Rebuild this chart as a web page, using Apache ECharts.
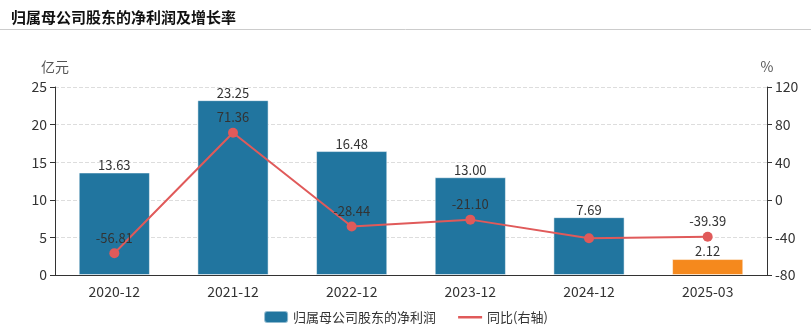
<!DOCTYPE html>
<html><head><meta charset="utf-8">
<script src="https://cdn.jsdelivr.net/npm/echarts@6/dist/echarts.min.js"></script>
<style>html,body{margin:0;padding:0;background:#fff}#c{width:811px;height:327px}</style>
</head><body><div id="c"></div>
<script>
const categories = ['2020-12','2021-12','2022-12','2023-12','2024-12','2025-03'];
const profit = [13.63, 23.25, 16.48, 13.00, 7.69, 2.12];
const growth = [-56.81, 71.36, -28.44, -21.10, -40.85, -39.39];
const leftTicks = [0, 25, 5];
const rightTicks = [-80, 120, 40];
const chart = echarts.init(document.getElementById('c'));
const font = '"Microsoft YaHei","Noto Sans CJK SC",sans-serif';
chart.setOption({
  animation:false,
  textStyle:{fontFamily:font},
  title:{text:'归属母公司股东的净利润及增长率',left:6,top:5,textStyle:{fontSize:15,fontWeight:'bold',color:'#111',fontFamily:font}},
  graphic:[{type:'line',shape:{x1:0,y1:29.5,x2:811,y2:29.5},style:{stroke:'#ccc',lineWidth:1}}],
  grid:{left:55,right:44,top:87,bottom:52},
  legend:{top:305,left:'center',itemWidth:24,itemHeight:12,itemGap:22,textStyle:{fontSize:13,color:'#333'},
    data:[{name:'归属母公司股东的净利润',icon:'roundRect'},
          {name:'同比(右轴)',icon:'path://M0,0L0,0M0,5L24,5L24,7.5L0,7.5ZM24,12L24,12'}]},
  xAxis:{type:'category',data:categories,axisLine:{lineStyle:{color:'#333'}},axisTick:{alignWithLabel:true,lineStyle:{color:'#333'}},
    axisLabel:{fontSize:14,color:'#333',margin:10}},
  yAxis:[{type:'value',name:'亿元',min:leftTicks[0],max:leftTicks[1],interval:leftTicks[2],
    nameTextStyle:{fontSize:14,color:'#555',padding:[0,0,0,0]},nameGap:13,
    axisLine:{show:true,lineStyle:{color:'#333'}},axisTick:{show:true},axisLabel:{fontSize:14,color:'#333'},
    splitLine:{lineStyle:{type:'dashed',color:'#ddd'}}},
    {type:'value',name:'%',min:rightTicks[0],max:rightTicks[1],interval:rightTicks[2],
    nameTextStyle:{fontSize:14,color:'#555',padding:[0,0,0,0]},nameGap:13,
    axisLine:{show:true,lineStyle:{color:'#333'}},axisTick:{show:true},axisLabel:{fontSize:14,color:'#333'},
    splitLine:{show:false}}],
  series:[
    {name:'归属母公司股东的净利润',type:'bar',barWidth:'60%',
     data:profit.map((v,i)=>({value:v,itemStyle:{color:i===profit.length-1?'#f5891d':'#21759f'}})),
     itemStyle:{color:'#21759f',borderColor:'rgba(255,255,255,0.5)',borderWidth:1},
     label:{show:true,position:'top',distance:1,fontSize:13,color:'#333',formatter:p=>p.value.toFixed(2)}},
    {name:'同比(右轴)',type:'line',yAxisIndex:1,color:'#e05a5a',symbol:'circle',symbolSize:10,
     lineStyle:{width:2,color:'#e05a5a'},itemStyle:{color:'#e05a5a'},
     data:growth.map((v,i)=>i===4?{value:v,label:{show:false}}:v),
     label:{show:true,position:'top',distance:4,fontSize:13,color:'#333',formatter:p=>p.value.toFixed(2)}}
  ]
});
</script></body></html>
